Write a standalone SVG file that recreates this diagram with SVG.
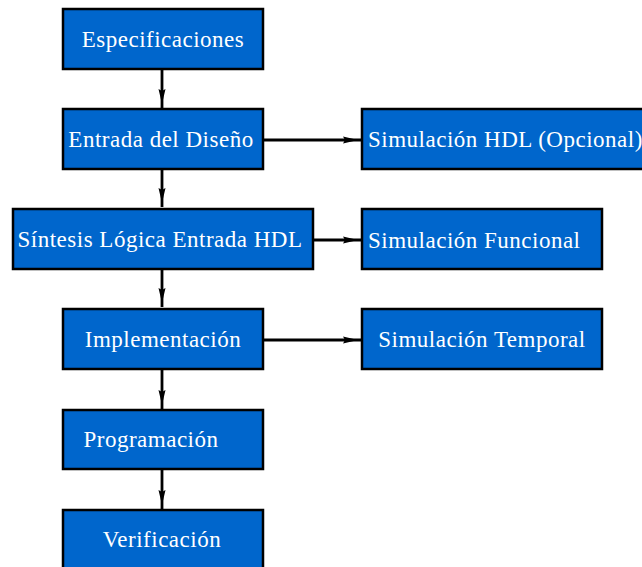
<svg xmlns="http://www.w3.org/2000/svg" width="642" height="567" viewBox="0 0 642 567">
  <style>
    .box { fill: #0066cc; stroke: #000; stroke-width: 2.5; }
    .lbl { fill: #fff; font-family: "Liberation Serif", "Times New Roman", serif; font-size: 23px; letter-spacing: 0.5px; text-anchor: middle; }
    .lbl-l { text-anchor: start; }
    .conn { stroke: #000; stroke-width: 2.8; fill: none; marker-end: url(#head); }
  </style>
  <defs>
    <marker id="head" markerUnits="userSpaceOnUse" markerWidth="24" markerHeight="10" refX="19" refY="4" orient="auto">
      <path d="M0,0.5 L15,4 L0,7.5 L2,4 z" fill="#000"/>
    </marker>
  </defs>

  <!-- flow connectors -->
  <g id="connectors">
    <line class="conn" x1="162" y1="70" x2="162" y2="108"/>
    <line class="conn" x1="162" y1="169" x2="162" y2="207"/>
    <line class="conn" x1="162" y1="270" x2="162" y2="307"/>
    <line class="conn" x1="162" y1="370" x2="162" y2="409"/>
    <line class="conn" x1="162" y1="470" x2="162" y2="509"/>
    <line class="conn" x1="263" y1="140" x2="362" y2="140"/>
    <line class="conn" x1="313" y1="240" x2="362" y2="240"/>
    <line class="conn" x1="263" y1="340" x2="362" y2="340"/>
  </g>

  <!-- main design flow -->
  <g id="especificaciones">
    <rect class="box" x="63" y="9" width="200" height="60"/>
    <text class="lbl" x="163" y="47">Especificaciones</text>
  </g>
  <g id="entrada-diseno">
    <rect class="box" x="63" y="109" width="200" height="60"/>
    <text class="lbl" x="161" y="147">Entrada del Diseño</text>
  </g>
  <g id="sintesis">
    <rect class="box" x="13" y="209" width="300" height="60"/>
    <text class="lbl" x="160" y="247">Síntesis Lógica Entrada HDL</text>
  </g>
  <g id="implementacion">
    <rect class="box" x="63" y="309" width="200" height="60"/>
    <text class="lbl" x="163" y="347">Implementación</text>
  </g>
  <g id="programacion">
    <rect class="box" x="63" y="410" width="200" height="59"/>
    <text class="lbl" x="151" y="447">Programación</text>
  </g>
  <g id="verificacion">
    <rect class="box" x="63" y="510" width="200" height="60"/>
    <text class="lbl" x="162" y="547">Verificación</text>
  </g>

  <!-- simulation branches -->
  <g id="sim-hdl">
    <rect class="box" x="362" y="109" width="284" height="60"/>
    <text class="lbl lbl-l" x="368" y="147">Simulación HDL (Opcional)</text>
  </g>
  <g id="sim-funcional">
    <rect class="box" x="362" y="209" width="240" height="60"/>
    <text class="lbl lbl-l" x="368" y="248">Simulación Funcional</text>
  </g>
  <g id="sim-temporal">
    <rect class="box" x="362" y="309" width="240" height="60"/>
    <text class="lbl" x="482" y="347">Simulación Temporal</text>
  </g>
</svg>
